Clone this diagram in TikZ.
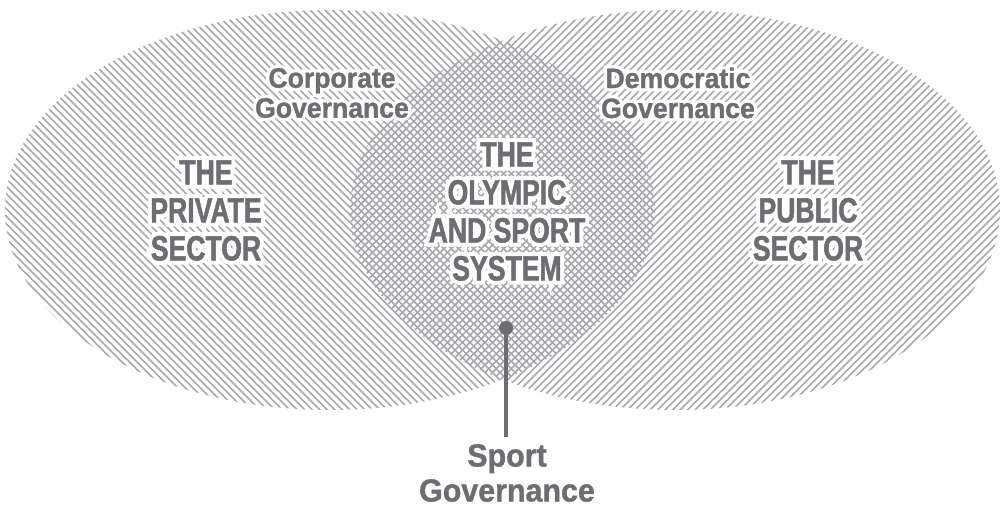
\documentclass[tikz,border=0pt]{standalone}
\usepackage{fontspec}
\setmainfont{Liberation Sans}
\newfontfamily\condcaps{Liberation Sans}[FakeStretch=0.76,FakeBold=1.5]
\newfontfamily\condcapsH{Liberation Sans}[FakeStretch=0.76,FakeBold=24]
\newfontfamily\condlow{Liberation Sans}[FakeStretch=0.95,FakeBold=1.2]
\newfontfamily\condlowH{Liberation Sans}[FakeStretch=0.95,FakeBold=24]
\usetikzlibrary{calc}
\definecolor{hatchgray}{HTML}{A7A9AC}
\definecolor{textgray}{HTML}{6D6E71}
\tikzset{
  hatchline/.style={draw=hatchgray, line width=1.65pt},
  basiclabel/.style={align=center, inner sep=0pt, text=textgray},
  capslabel/.style={basiclabel, font=\condcaps\bfseries\fontsize{35}{38}\selectfont},
  capshalo/.style={basiclabel, text=white, font=\condcapsH\bfseries\fontsize{35}{38}\selectfont},
  govlabel/.style={basiclabel, font=\condlow\bfseries\fontsize{28}{30}\selectfont},
  govhalo/.style={basiclabel, text=white, font=\condlowH\bfseries\fontsize{28}{30}\selectfont},
  sglabel/.style={basiclabel, font=\condlow\bfseries\fontsize{32}{35}\selectfont},
  pindot/.style={fill=textgray, circle, inner sep=0pt, minimum size=14pt},
  pinline/.style={draw=textgray, line width=4pt},
}
\begin{document}
\begin{tikzpicture}[x=1pt,y=-1pt]
\useasboundingbox (0,0) rectangle (1002,507);
\fill[white] (0,0) rectangle (1002,507);
% left ellipse: lines down-right
\begin{scope}
  \clip (330,210) ellipse [x radius=325, y radius=200];
  \foreach \c in {-420,-412.5,...,660} \draw[hatchline] (\c,0) -- ++(507,507);
\end{scope}
% right ellipse: lines down-left
\begin{scope}
  \clip (675,210) ellipse [x radius=325, y radius=200];
  \foreach \c in {340,347.5,...,1420} \draw[hatchline] (\c,0) -- ++(-507,507);
\end{scope}
% label halos
\node[capshalo] at (206,210.5) {THE\\PRIVATE\\SECTOR};
\node[capshalo] at (808,210.5) {THE\\PUBLIC\\SECTOR};
\node[capshalo] at (507,211.5) {THE\\OLYMPIC\\AND SPORT\\SYSTEM};
\node[govhalo] at (332,93) {Corporate\\Governance};
\node[govhalo] at (678,93) {Democratic\\Governance};
% labels
\node[capslabel] (private) at (206,210.5) {THE\\PRIVATE\\SECTOR};
\node[capslabel] (public) at (808,210.5) {THE\\PUBLIC\\SECTOR};
\node[capslabel] (olympic) at (507,211.5) {THE\\OLYMPIC\\AND SPORT\\SYSTEM};
\node[govlabel] (corporate) at (332,93) {Corporate\\Governance};
\node[govlabel] (democratic) at (678,93) {Democratic\\Governance};
% pin
\node[pindot] (dot) at (506,328) {};
\coordinate (tail) at (506,437);
\draw[pinline] (dot.center) -- (tail);
\node[sglabel] (sport) at (507,473) {Sport\\Governance};
\end{tikzpicture}
\end{document}
